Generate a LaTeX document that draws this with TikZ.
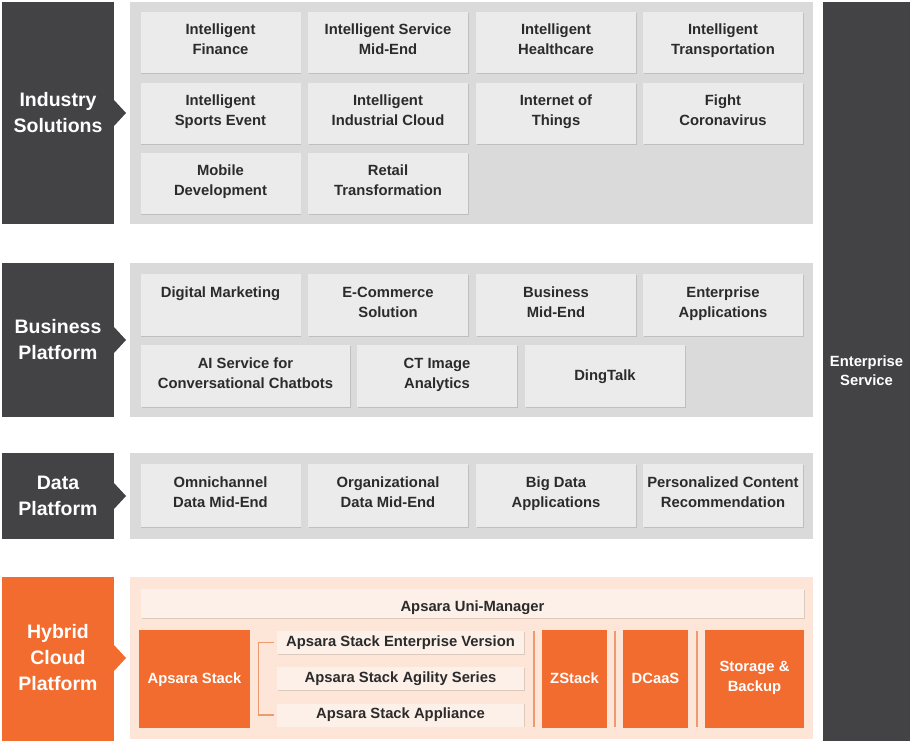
\documentclass[tikz,border=0pt]{standalone}
\usepackage{fontspec}
\setmainfont{Liberation Sans}
\usetikzlibrary{shadows}
\begin{document}
\begin{tikzpicture}[x=1pt,y=-1pt,
  every node/.style={font=\bfseries},
  softshadow/.style={drop shadow={shadow xshift=0.6pt,shadow yshift=-0.8pt,opacity=0.12,fill=black}},
  cell/.style={fill=cellgray,draw=none,text=txt,align=center,inner sep=0pt,softshadow,
    font=\fontsize{14.8}{20}\selectfont\bfseries,
    execute at begin node=\strut, execute at end node=\strut},
  lbl/.style={text=white,align=center,font=\fontsize{19.5}{26}\selectfont\bfseries},
  obox/.style={fill=orng,draw=none,text=white,align=center,inner sep=0pt,
    font=\fontsize{14.8}{20}\selectfont\bfseries,
    execute at begin node=\strut, execute at end node=\strut},
  pbar/.style={fill=peachbar,draw=none,text=txt,align=center,inner sep=0pt,softshadow,
    font=\fontsize{14.8}{20}\selectfont\bfseries},
  sepline/.style={draw=seporange,line width=1.3pt},
  bracket/.style={draw=seporange,line width=1.3pt}]
\definecolor{darkbg}{HTML}{434345}
\definecolor{panelgray}{HTML}{DADADA}
\definecolor{cellgray}{HTML}{EBEBEB}
\definecolor{txt}{HTML}{2B2B2B}
\definecolor{orng}{HTML}{F26B2F}
\definecolor{peach}{HTML}{FDE5D8}
\definecolor{peachbar}{HTML}{FDF0E8}
\definecolor{seporange}{HTML}{EE9A70}
\useasboundingbox (0,0) rectangle (910,741);

% Enterprise service column
\fill[darkbg] (823,2) rectangle (910,741);
\node[text=white,align=center,font=\fontsize{14.8}{19}\selectfont\bfseries] (es) at (866.5,371) {Enterprise\\Service};

% Left labels with arrow notches
\fill[darkbg] (2,2) rectangle (114,224);
\fill[darkbg] (114,100) -- (126,113) -- (114,126) -- cycle;
\node[lbl] (ind) at (58,113) {Industry\\Solutions};
\fill[darkbg] (2,263) rectangle (114,417);
\fill[darkbg] (114,327) -- (126,340) -- (114,353) -- cycle;
\node[lbl] (bus) at (58,340) {Business\\Platform};
\fill[darkbg] (2,453) rectangle (114,539);
\fill[darkbg] (114,483) -- (126,496) -- (114,509) -- cycle;
\node[lbl] (dat) at (58,496) {Data\\Platform};
\fill[orng] (2,577) rectangle (114,741);
\fill[orng] (114,645) -- (126,658) -- (114,671) -- cycle;
\node[lbl] (hyb) at (58,658) {Hybrid\\Cloud\\Platform};

% Panels
\fill[panelgray] (130,2) rectangle (813,224);
\fill[panelgray] (130,263) rectangle (813,417);
\fill[panelgray] (130,453) rectangle (813,539);
\fill[peach] (130,577) rectangle (813,739);

% Industry cells
\begin{scope}[every node/.append style={minimum width=160pt,minimum height=61pt}]
\node[cell] (i1) at (220.5,42.5) {Intelligent\\Finance};
\node[cell] (i2) at (388,42.5) {Intelligent Service\\Mid-End};
\node[cell] (i3) at (556,42.5) {Intelligent\\Healthcare};
\node[cell] (i4) at (723,42.5) {Intelligent\\Transportation};
\node[cell] (i5) at (220.5,113.5) {Intelligent\\Sports Event};
\node[cell] (i6) at (388,113.5) {Intelligent\\Industrial Cloud};
\node[cell] (i7) at (556,113.5) {Internet of\\Things};
\node[cell] (i8) at (723,113.5) {Fight\\Coronavirus};
\node[cell] (i9) at (220.5,183.5) {Mobile\\Development};
\node[cell] (i10) at (388,183.5) {Retail\\Transformation};
\end{scope}

% Business cells
\begin{scope}[every node/.append style={minimum height=62pt}]
\node[cell,minimum width=160pt,text depth=30pt] (b1) at (220.5,305) {Digital Marketing};
\node[cell,minimum width=160pt] (b2) at (388,305) {E-Commerce\\Solution};
\node[cell,minimum width=160pt] (b3) at (556,305) {Business\\Mid-End};
\node[cell,minimum width=160pt] (b4) at (723,305) {Enterprise\\Applications};
\node[cell,minimum width=209pt] (b5) at (245.5,376) {AI Service for\\Conversational Chatbots};
\node[cell,minimum width=160pt] (b6) at (437,376) {CT Image\\Analytics};
\node[cell,minimum width=160pt] (b7) at (605,376) {DingTalk};
\end{scope}

% Data cells
\begin{scope}[every node/.append style={minimum width=160pt,minimum height=63pt}]
\node[cell] (d1) at (220.5,495.5) {Omnichannel\\Data Mid-End};
\node[cell] (d2) at (388,495.5) {Organizational\\Data Mid-End};
\node[cell] (d3) at (556,495.5) {Big Data\\Applications};
\node[cell] (d4) at (723,495.5) {Personalized Content\\Recommendation};
\end{scope}

% Hybrid cloud
\node[pbar,minimum width=663pt,minimum height=29pt,text height=16pt,text depth=0pt] (um) at (472.5,603.5) {Apsara Uni-Manager};
\node[obox,minimum width=111pt,minimum height=98pt] (as) at (194.5,679) {Apsara Stack};
\node[pbar,minimum width=247pt,minimum height=23pt] (e1) at (400.5,642.5) {Apsara Stack Enterprise Version};
\node[pbar,minimum width=247pt,minimum height=23pt] (e2) at (400.5,678.5) {Apsara Stack Agility Series};
\node[pbar,minimum width=247pt,minimum height=23pt] (e3) at (400.5,715) {Apsara Stack Appliance};
\node[obox,minimum width=65pt,minimum height=98pt] (zs) at (574.5,679) {ZStack};
\node[obox,minimum width=65pt,minimum height=98pt] (dc) at (655.5,679) {DCaaS};
\node[obox,minimum width=99pt,minimum height=98pt] (sb) at (754.5,679) {Storage \&\\Backup};

\draw[bracket,shorten <=3pt,shorten >=3pt] (e1.west) -- ++(-18,0) |- (e3.west);
\draw[sepline] (534,631) -- (534,727);
\draw[sepline] (615,631) -- (615,727);
\draw[sepline] (697,631) -- (697,727);
\end{tikzpicture}
\end{document}
